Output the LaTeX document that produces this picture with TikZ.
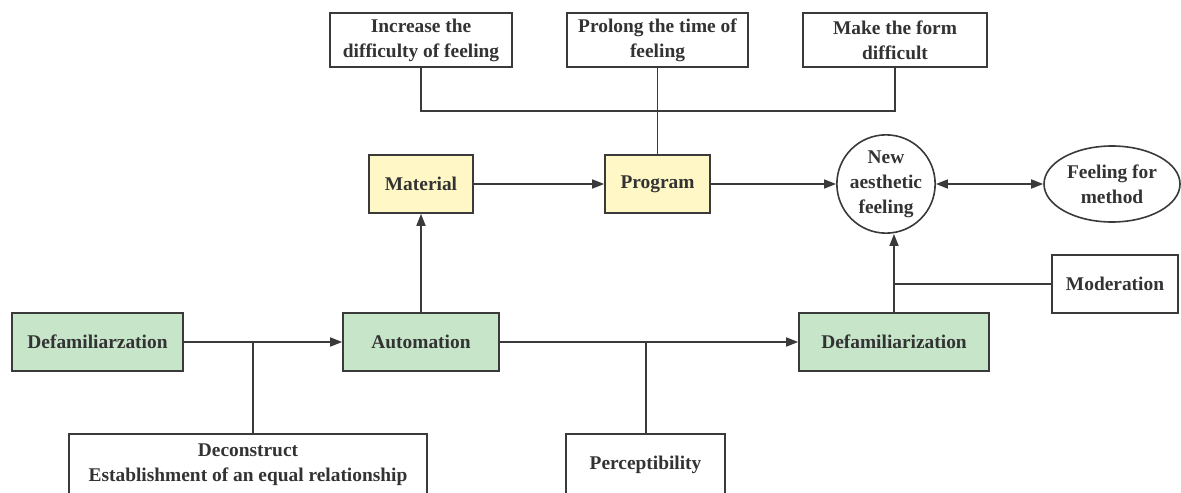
\documentclass[tikz,border=0pt]{standalone}
\usepackage{fontspec}
\setmainfont{Liberation Serif}
\usetikzlibrary{arrows.meta,shapes.geometric}
\definecolor{matyellow}{HTML}{FFF8C6}
\definecolor{autogreen}{HTML}{C6E5C9}
\definecolor{linegray}{HTML}{3A3A3A}
\definecolor{textgray}{HTML}{333333}

\begin{document}
\begin{tikzpicture}[x=0.5pt, y=-0.5pt,
  every node/.style={draw=linegray, line width=0.8pt, align=center, inner sep=0pt,
    text=textgray, font=\bfseries\fontsize{9.7}{12.5}\selectfont},
  plainbox/.style={rectangle},
  yellowbox/.style={rectangle, fill=matyellow},
  greenbox/.style={rectangle, fill=autogreen},
  link/.style={draw=linegray, line width=0.8pt},
  thinlink/.style={draw=linegray, line width=0.5pt},
  arr/.style={link, -{Triangle[length=6pt, width=4.5pt]}},
  dblarr/.style={link, {Triangle[length=6pt, width=4.5pt]}-{Triangle[length=6pt, width=4.5pt]}}]
\clip (0,0) rectangle (1181,492);
\fill[white] (0,0) rectangle (1181,492);

% top row
\node[plainbox, minimum width=91pt, minimum height=27pt] (inc) at (421, 40) {Increase the\\difficulty of feeling};
\node[plainbox, minimum width=90.5pt, minimum height=27pt] (pro) at (657.5, 40) {Prolong the time of\\feeling};
\node[plainbox, minimum width=92pt, minimum height=27pt] (mak) at (895, 40) {Make the form\\difficult};

% middle row
\node[yellowbox, minimum width=52pt, minimum height=29pt] (mat) at (421, 184) {Material};
\node[yellowbox, minimum width=52.5pt, minimum height=29pt] (prg) at (657.5, 184) {Program};
\node[circle, minimum size=48.5pt] (naf) at (886, 184) {New\\aesthetic\\feeling};
\node[ellipse, minimum width=68pt, minimum height=38pt] (ffm) at (1112, 184) {Feeling for\\method};
\node[plainbox, minimum width=63pt, minimum height=29pt] (mod) at (1115, 284) {Moderation};

% lower row
\node[greenbox, minimum width=85.5pt, minimum height=29pt] (def1) at (97.5, 342) {Defamiliarzation};
\node[greenbox, minimum width=78pt, minimum height=29pt] (aut) at (421, 342) {Automation};
\node[greenbox, minimum width=95pt, minimum height=29pt] (def2) at (894, 342) {Defamiliarization};

% bottom row
\node[plainbox, minimum width=179pt, minimum height=31pt] (dec) at (248, 465) {Deconstruct\\Establishment of an equal relationship};
\node[plainbox, minimum width=79.5pt, minimum height=31pt] (per) at (645.5, 465) {Perceptibility};

\coordinate (bus) at (657.5, 111);
\coordinate (j1) at (253, 342);
\coordinate (j2) at (646, 342);

\draw[link] (inc.south) -- (inc.south |- bus) -- (mak.south |- bus) -- (mak.south);
\draw[thinlink] (pro.south) -- (bus);
\draw[link] (bus) -- (prg.north);
\draw[arr] (mat) -- (prg);
\draw[arr] (prg) -- (naf);
\draw[dblarr] (naf) -- (ffm);
\draw[arr] (aut) -- (mat);
\draw[arr] (def1) -- (aut);
\draw[arr] (aut) -- (def2);
\draw[link] (j1) -- (j1 |- dec.north);
\draw[link] (j2) -- (j2 |- per.north);
\draw[arr] (def2.north) -- (def2.north |- naf.south);
\draw[link] (mod.west) -- (mod.west -| def2.north);
\end{tikzpicture}
\end{document}
